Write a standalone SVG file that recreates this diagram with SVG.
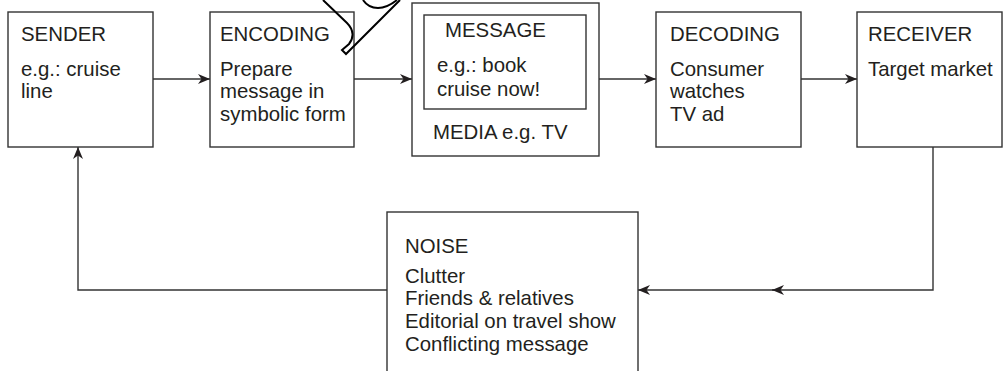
<svg xmlns="http://www.w3.org/2000/svg" width="1004" height="371" viewBox="0 0 1004 371">
<style>
.box{fill:#fff;stroke:#333;stroke-width:1.4}
.ln{fill:none;stroke:#333;stroke-width:1.4}
text{font-family:"Liberation Sans",Arial,sans-serif;font-size:20.4px;fill:#231f20}
</style>
<defs>
<marker id="ah" viewBox="0 0 12 10" refX="12" refY="5" markerWidth="12" markerHeight="10" markerUnits="userSpaceOnUse" orient="auto">
<path d="M0,0 L12,5 L0,10 L3.5,5 z" fill="#231f20"/>
</marker>
</defs>
<rect width="1004" height="371" fill="#fff"/>
<g id="connectors">
<line class="ln" x1="153" y1="79" x2="210" y2="79" marker-end="url(#ah)"/>
<line class="ln" x1="354" y1="79" x2="412" y2="79" marker-end="url(#ah)"/>
<line class="ln" x1="599" y1="79" x2="656" y2="79" marker-end="url(#ah)"/>
<line class="ln" x1="801" y1="79" x2="857" y2="79" marker-end="url(#ah)"/>
<polyline class="ln" points="933,147 933,290 772,290"/>
<line class="ln" x1="774" y1="290" x2="638" y2="290" marker-end="url(#ah)"/>
<path d="M772,290 L784,285 L780.5,290 L784,295 z" fill="#231f20"/>
<polyline class="ln" points="387,290 78,290 78,147" marker-end="url(#ah)"/>
</g>
<g id="sender">
<rect class="box" x="8" y="12" width="145" height="135"/>
<text x="21" y="41">SENDER</text>
<text x="21" y="76">e.g.: cruise</text>
<text x="21" y="98">line</text>
</g>
<g id="encoding">
<rect class="box" x="210" y="12" width="144" height="135"/>
<text x="220" y="41">ENCODING</text>
<text x="220" y="76">Prepare</text>
<text x="220" y="98">message in</text>
<text x="220" y="121">symbolic form</text>
</g>
<g id="media">
<rect class="box" x="412" y="3" width="187" height="153"/>
<rect class="box" x="424" y="15" width="162" height="94"/>
<text x="445" y="37">MESSAGE</text>
<text x="437" y="72">e.g.: book</text>
<text x="437" y="96">cruise now!</text>
<text x="433" y="139">MEDIA e.g. TV</text>
</g>
<g id="decoding">
<rect class="box" x="656" y="12" width="145" height="135"/>
<text x="670" y="41">DECODING</text>
<text x="670" y="76">Consumer</text>
<text x="670" y="98">watches</text>
<text x="670" y="121">TV ad</text>
</g>
<g id="receiver">
<rect class="box" x="857" y="12" width="145" height="135"/>
<text x="868" y="41">RECEIVER</text>
<text x="868" y="76">Target market</text>
</g>
<g id="noise">
<rect class="box" x="387" y="212" width="251" height="165"/>
<text x="405" y="253">NOISE</text>
<text x="405" y="283">Clutter</text>
<text x="405" y="305">Friends &amp; relatives</text>
<text x="405" y="328">Editorial on travel show</text>
<text x="405" y="351">Conflicting message</text>
</g>
<g id="mark" fill="none" stroke="#000" stroke-width="2">
<path d="M323,0 L347,23 C354,30 354,38 349,44 L342,50 L346,54 L400,0"/>
<path d="M363,0 C367,6 372,8 378,8 C384,8 392,4 397,0"/>
</g>
</svg>
